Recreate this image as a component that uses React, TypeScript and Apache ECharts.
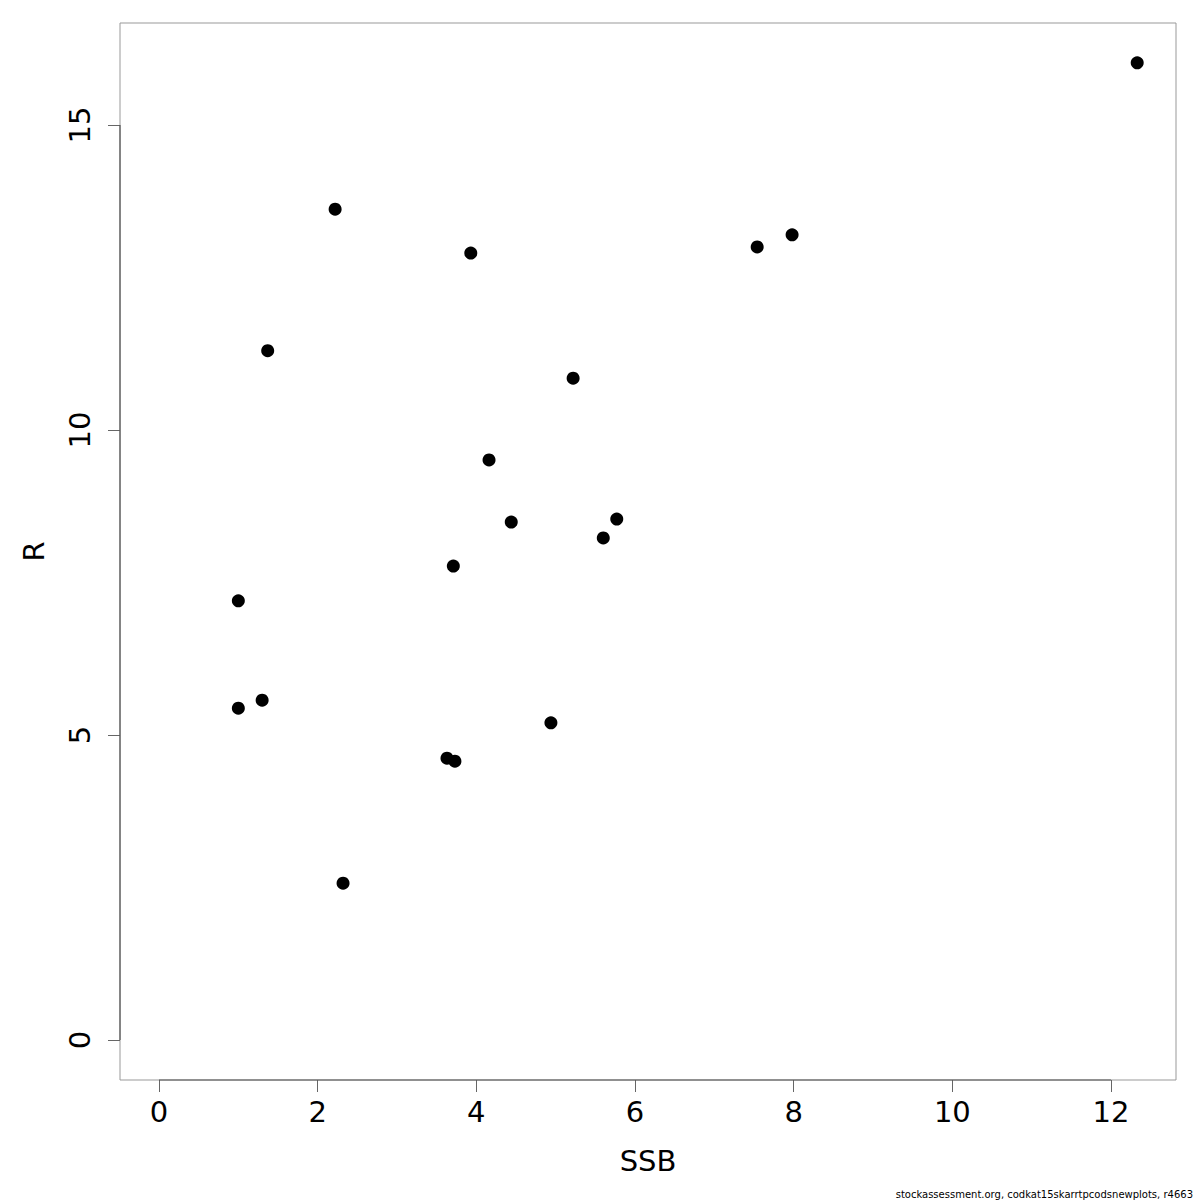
import React, { useEffect, useRef } from "react";
import * as echarts from "echarts";

const ssb = [12.33, 2.22, 3.93, 7.54, 7.98, 1.37, 5.22, 4.16, 4.44, 5.77, 5.6, 3.71, 1.0, 1.0, 1.3, 4.94, 3.63, 3.73, 2.32];
const recruits = [16.02, 13.62, 12.9, 13.0, 13.2, 11.3, 10.85, 9.51, 8.49, 8.54, 8.23, 7.77, 7.2, 5.44, 5.57, 5.2, 4.62, 4.57, 2.57];
const xTicks = [0, 2, 4, 6, 8, 10, 12];
const yTicks = [0, 5, 10, 15];
const footer = "stockassessment.org, codkat15skarrtpcodsnewplots, r4663";

const X_MIN = -0.4916;
const X_MAX = 12.819;
const Y_MIN = -0.656;
const Y_MAX = 16.672;

export default function App() {
  const ref = useRef<HTMLDivElement>(null);
  useEffect(() => {
    if (!ref.current) return;
    const chart = echarts.init(ref.current, undefined, { renderer: "svg" });
    const font = "DejaVu Sans";
    chart.setOption({
      animation: false,
      backgroundColor: "#ffffff",
      textStyle: { fontFamily: font },
      grid: {
        left: 120,
        top: 23,
        right: 24,
        bottom: 120,
        show: true,
        borderColor: "#999999",
        borderWidth: 1,
        backgroundColor: "transparent",
      },
      xAxis: {
        type: "value",
        min: X_MIN,
        max: X_MAX,
        name: "SSB",
        nameLocation: "middle",
        nameGap: 66,
        nameTextStyle: { fontSize: 29, color: "#000", fontFamily: font },
        axisLine: { show: false, onZero: false },
        splitLine: { show: false },
        axisTick: { show: true, inside: false, length: 12, lineStyle: { color: "#666" }, customValues: xTicks },
        axisLabel: { show: true, fontSize: 29, color: "#000", margin: 17, fontFamily: font, customValues: xTicks },
      },
      yAxis: {
        type: "value",
        min: Y_MIN,
        max: Y_MAX,
        name: "R",
        nameLocation: "middle",
        nameGap: 72,
        nameRotate: 90,
        nameTextStyle: { fontSize: 29, color: "#000", fontFamily: font },
        axisLine: { show: false, onZero: false },
        splitLine: { show: false },
        axisTick: { show: true, inside: false, length: 12, lineStyle: { color: "#666" }, customValues: yTicks },
        axisLabel: { show: true, fontSize: 29, color: "#000", margin: 26, rotate: 90, fontFamily: font, customValues: yTicks },
      },
      graphic: [
        {
          type: "text",
          right: 7,
          top: 1189,
          style: { text: footer, fontSize: 10, fill: "#000", fontFamily: font },
        },
      ],
      series: [
        {
          type: "custom",
          silent: true,
          clip: false,
          data: [[0]],
          renderItem: (params: any, api: any) => {
            const a = api.coord([xTicks[0], Y_MIN]);
            const b = api.coord([xTicks[xTicks.length - 1], Y_MIN]);
            const c = api.coord([X_MIN, yTicks[0]]);
            const d = api.coord([X_MIN, yTicks[yTicks.length - 1]]);
            return {
              type: "group",
              children: [
                { type: "line", shape: { x1: a[0], y1: a[1], x2: b[0], y2: b[1] }, style: { stroke: "#555", lineWidth: 1.2 } },
                { type: "line", shape: { x1: c[0], y1: c[1], x2: d[0], y2: d[1] }, style: { stroke: "#555", lineWidth: 1.2 } },
              ],
            };
          },
        },
        {
          type: "scatter",
          symbol: "circle",
          symbolSize: 13,
          itemStyle: { color: "#000", opacity: 1 },
          data: ssb.map((x, i) => [x, recruits[i]]),
        },
      ],
    });
    return () => chart.dispose();
  }, []);
  return <div ref={ref} style={{ position: "fixed", left: 0, top: 0, width: 1200, height: 1200 }} />;
}
